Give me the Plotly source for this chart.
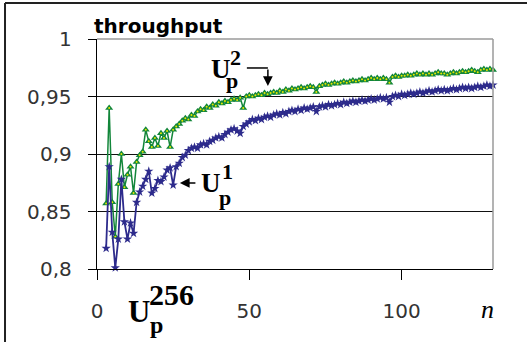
import plotly.graph_objects as go

n_values = list(range(3, 131))

up2 = [0.857, 0.940, 0.858, 0.828, 0.874, 0.900, 0.871, 0.882, 0.889, 0.866,
       0.893, 0.899, 0.902, 0.921, 0.911, 0.906, 0.914, 0.907, 0.918, 0.914,
       0.920, 0.906, 0.921, 0.924, 0.926, 0.929, 0.931, 0.930, 0.934, 0.933,
       0.937, 0.939, 0.938, 0.941, 0.940, 0.943, 0.942, 0.945, 0.944, 0.946,
       0.945, 0.947, 0.948, 0.947, 0.949, 0.940, 0.950, 0.951, 0.950, 0.951,
       0.952, 0.951, 0.953, 0.952, 0.953, 0.954, 0.953, 0.955, 0.954, 0.956,
       0.955, 0.957, 0.956, 0.957, 0.958, 0.957, 0.958, 0.959, 0.958, 0.954,
       0.959, 0.960, 0.961, 0.960, 0.961, 0.962, 0.961, 0.962, 0.963, 0.962,
       0.963, 0.964, 0.963, 0.964, 0.965, 0.964, 0.965, 0.966, 0.965, 0.966,
       0.965, 0.966, 0.965, 0.962, 0.967, 0.968, 0.967, 0.968, 0.968, 0.969,
       0.968, 0.969, 0.970, 0.969, 0.970, 0.969, 0.970, 0.969, 0.970, 0.971,
       0.970, 0.970, 0.969, 0.970, 0.971, 0.970, 0.971, 0.972, 0.971, 0.972,
       0.973, 0.972, 0.971, 0.973, 0.974, 0.973, 0.974, 0.973]

up1 = [0.818, 0.889, 0.832, 0.801, 0.826, 0.878, 0.841, 0.826, 0.840, 0.831,
       0.858, 0.867, 0.872, 0.878, 0.885, 0.866, 0.870, 0.877, 0.876, 0.880,
       0.886, 0.888, 0.873, 0.889, 0.892, 0.897, 0.899, 0.903, 0.905, 0.906,
       0.905, 0.908, 0.909, 0.908, 0.911, 0.912, 0.914, 0.915, 0.914, 0.917,
       0.919, 0.921, 0.922, 0.920, 0.918, 0.924, 0.926, 0.928, 0.930, 0.929,
       0.931, 0.930, 0.932, 0.933, 0.932, 0.934, 0.935, 0.934, 0.936, 0.935,
       0.937, 0.938, 0.937, 0.939, 0.938, 0.940, 0.939, 0.940, 0.941, 0.937,
       0.941, 0.942, 0.941, 0.943, 0.942, 0.943, 0.944, 0.943, 0.945, 0.944,
       0.945, 0.946, 0.945, 0.946, 0.947, 0.946, 0.947, 0.948, 0.947, 0.948,
       0.949, 0.948, 0.949, 0.945, 0.950, 0.951, 0.950, 0.952, 0.951, 0.952,
       0.953, 0.952, 0.953, 0.954, 0.953, 0.954, 0.955, 0.954, 0.955, 0.956,
       0.955, 0.956, 0.955, 0.956, 0.957, 0.956, 0.957, 0.958, 0.957, 0.958,
       0.957, 0.958, 0.959, 0.958, 0.959, 0.960, 0.959, 0.960]

y_tickvals = [0.8, 0.85, 0.9, 0.95, 1.0]
y_ticktext = ["0,8", "0,85", "0,9", "0,95", "1"]
x_tickvals = [0, 50, 100]
x_ticktext = ["0", "50", "100"]

GREEN = "#12863a"
YELLOW = "#e8e800"
NAVY = "#2d2b8c"

fig = go.Figure()
fig.add_trace(go.Scatter(x=n_values, y=up2, mode="lines+markers",
                         line=dict(color=GREEN, width=1.5),
                         marker=dict(symbol="triangle-up", size=7, color=GREEN),
                         cliponaxis=False, showlegend=False))
fig.add_trace(go.Scatter(x=n_values, y=up2, mode="markers",
                         marker=dict(symbol="circle", size=2, color=YELLOW),
                         cliponaxis=False, showlegend=False))
fig.add_trace(go.Scatter(x=n_values, y=up1, mode="lines+markers",
                         line=dict(color=NAVY, width=1.8),
                         marker=dict(symbol="star", size=7, color=NAVY),
                         cliponaxis=False, showlegend=False))

SERIF = "Liberation Serif"
ann = []

def txt(x, y, s, size, xref="x", yref="y", bold=True, italic=False, family=SERIF,
        color="black", xanchor="center"):
    ann.append(dict(x=x, y=y, xref=xref, yref=yref, text=s, showarrow=False,
                    xanchor=xanchor, yanchor="middle",
                    font=dict(family=family, size=size, color=color,
                              weight="bold" if bold else "normal",
                              style="italic" if italic else "normal")))

# y tick labels (placed beside the ticks)
for v, t in zip(y_tickvals, y_ticktext):
    txt(-0.058, v, t, 20, xref="paper", yref="y", bold=False, family="DejaVu Sans",
        color="#333", xanchor="right")

# U_p^2
txt(40.6, 0.9740, "U", 27)
txt(44.2, 0.9635, "p", 22)
txt(45.6, 0.9835, "2", 22)
# U_p^1
txt(37.4, 0.8750, "U", 27)
txt(42.0, 0.8626, "p", 22)
txt(43.0, 0.8852, "1", 22)
# U_p^256 (below the plot area, paper coords)
txt(0.1060, -0.1848, "U", 31, xref="paper", yref="paper")
txt(0.1500, -0.2420, "p", 24, xref="paper", yref="paper")
txt(0.1870, -0.113, "256", 30, xref="paper", yref="paper")

# arrows
ann.append(dict(x=56.1, y=0.9591, ax=56.1, ay=0.9748, xref="x", yref="y",
                axref="x", ayref="y", text="", showarrow=True,
                arrowhead=2, arrowsize=1.3, arrowwidth=1.5, arrowcolor="black"))
ann.append(dict(x=27.2, y=0.8748, ax=32.8, ay=0.8748, xref="x", yref="y",
                axref="x", ayref="y", text="", showarrow=True,
                arrowhead=2, arrowsize=1.3, arrowwidth=1.5, arrowcolor="black"))

# axis titles
txt(-0.013, 1.058, "throughput", 20, xref="paper", yref="paper", family="DejaVu Sans", xanchor="left")
txt(0.985, -0.174, "n", 26, xref="paper", yref="paper", bold=False, italic=True)

shapes = [
    dict(type="line", xref="x", yref="y", x0=49.2, x1=56.1, y0=0.9748, y1=0.9748,
         line=dict(color="black", width=1.5)),
    dict(type="line", xref="paper", yref="paper", x0=0, x1=1, y0=1, y1=1,
         line=dict(color="#9a9a9a", width=1.5), layer="above"),
    dict(type="line", xref="paper", yref="paper", x0=1, x1=1, y0=0, y1=1,
         line=dict(color="#9a9a9a", width=1.5), layer="above"),
    dict(type="line", xref="paper", yref="paper", x0=-0.2323, x1=-0.2323, y0=-0.33, y1=1.1565,
         line=dict(color="#222", width=2)),
    dict(type="line", xref="paper", yref="paper", x0=-0.2323, x1=1.1, y0=1.1565, y1=1.1565,
         line=dict(color="#222", width=2)),
]

fig.update_layout(
    width=527, height=342,
    margin=dict(l=97, r=34, t=39, b=73),
    paper_bgcolor="white", plot_bgcolor="white",
    annotations=ann, shapes=shapes,
    font=dict(family="DejaVu Sans", size=20, color="#333"),
)
fig.update_xaxes(range=[0, 130], tickvals=x_tickvals, ticktext=x_ticktext,
                 showgrid=False, zeroline=False, showline=True, linecolor="black", linewidth=1,
                 ticks="outside", ticklen=10, tickcolor="black", tickwidth=1,
                 ticklabelstandoff=14, tickfont=dict(family="DejaVu Sans", size=20, color="#333"))
fig.update_yaxes(range=[0.8, 1.0], tickvals=y_tickvals, showticklabels=False,
                 showgrid=True, gridcolor="#111", gridwidth=1, zeroline=False,
                 showline=True, linecolor="black", linewidth=1,
                 ticks="outside", ticklen=8, tickcolor="black", tickwidth=1)

fig.write_html("out.html", config={"displayModeBar": False},
               post_script="document.body.style.margin='0';document.body.style.overflow='hidden';")
